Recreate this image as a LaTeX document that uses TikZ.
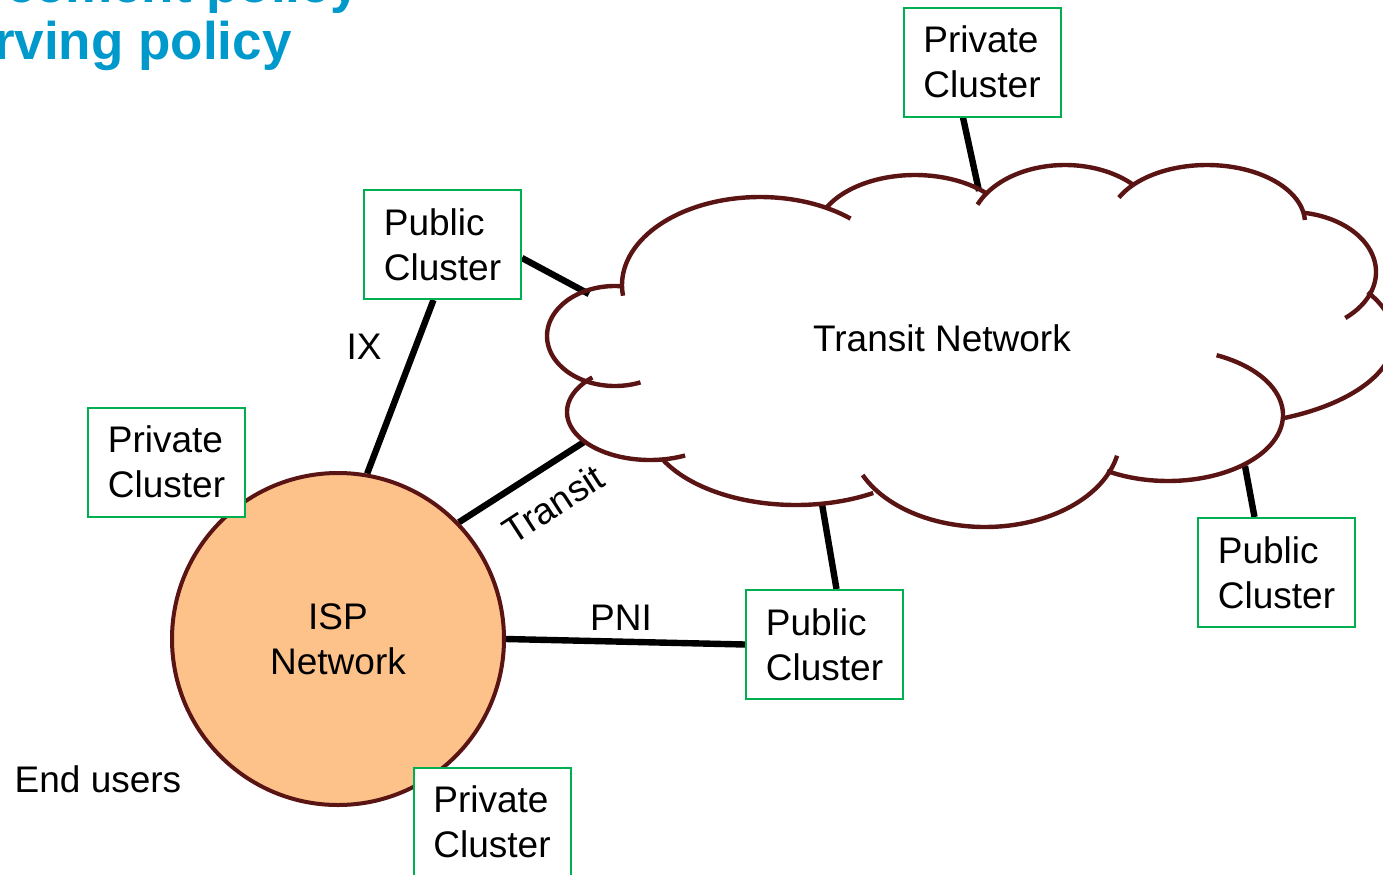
\documentclass[tikz,border=0pt]{standalone}
\usepackage{fontspec}
\setmainfont{Liberation Sans}
\usetikzlibrary{calc}
\pgfdeclarelayer{background}
\pgfsetlayers{background,main}
\definecolor{cloudred}{RGB}{90,20,20}
\definecolor{boxgreen}{RGB}{0,176,80}
\definecolor{ispfill}{RGB}{252,194,138}
\definecolor{titleblue}{RGB}{0,153,204}
\newcommand\cloudlobe[6]{\draw[cloudline] plot[domain=#5:#6, samples=60] ({#1+#3*cos(\x)},{#2+#4*sin(\x)});}
\begin{document}
\begin{tikzpicture}[x=0.5pt,y=-0.5pt,
  txt/.style={font=\fontsize{18.5pt}{22.5pt}\selectfont},
  box/.style={txt, draw=boxgreen, line width=1pt, fill=white, minimum width=78.5pt, minimum height=54.5pt, inner sep=0pt, align=left},
  isps/.style={txt, circle, draw=cloudred, line width=2pt, fill=ispfill, minimum size=166pt, inner sep=0pt, align=center},
  link/.style={line width=3.2pt, draw=black},
  cloudline/.style={draw=cloudred, line width=2.2pt},
  lbl/.style={txt, inner sep=0pt},
  ttl/.style={font=\fontsize{26.5pt}{30pt}\selectfont\bfseries, text=titleblue, inner sep=0pt, anchor=base east}]
\useasboundingbox (0,0) rectangle (1383,874);
\clip (0,0) rectangle (1383,874);
\begin{pgfonlayer}{background}
\fill[white] (0,0) rectangle (1383,874);
\end{pgfonlayer}

% title
\node[ttl] (t1) at (360,2) {cement policy};
\node[ttl] (t2) at (292,59) {rving policy};

% cloud attachment points
\coordinate (cPT) at (979,191);
\coordinate (cPL) at (589,294);
\coordinate (cTR) at (584,442);
\coordinate (cPM) at (822,504);
\coordinate (cPR) at (1245,466);

% nodes
\node[isps] (isp) at (338,639) {ISP\\Network};
\node[box] (privTop) at (982,62) {Private\\Cluster};
\node[box] (pubTL) at (442.5,244.5) {Public\\Cluster};
\node[box] (privL) at (166.5,462) {Private\\Cluster};
\node[box] (pubMid) at (824.5,644.5) {Public\\Cluster};
\node[box] (pubR) at (1276.5,572.5) {Public\\Cluster};
\node[box] (privBot) at (492,822) {Private\\Cluster};

% connectors (behind the nodes)
\begin{pgfonlayer}{background}
\draw[link] ($(privTop.south)+(-19,0)$) -- (cPT);
\draw[link] ($(pubTL.east)+(0,13.5)$) -- (cPL);
\draw[link] ($(pubTL.south)+(-9,0)$) -- (isp.80);
\draw[link] (isp.44) -- (cTR);
\draw[link] (isp.east) -- (pubMid.west);
\draw[link] ($(pubMid.north)+(12,0)$) -- (cPM);
\draw[link] ($(pubR.north)+(-22,0)$) -- (cPR);
\end{pgfonlayer}

% cloud
\cloudlobe{615}{336}{68}{50}{68}{275}
\cloudlobe{650}{412}{83}{48}{65}{226}
\cloudlobe{796}{421}{150}{84}{59}{153}
\cloudlobe{985}{437}{135}{90}{12}{155}
\cloudlobe{1168}{415}{115}{66}{-65}{122}
\cloudlobe{1210}{337.5}{184}{88}{-31}{66}
\cloudlobe{1290}{272}{86}{60}{-81}{50}
\cloudlobe{1207}{223}{98}{58}{-154}{-3}
\cloudlobe{1065}{230}{95}{65}{-157}{-45}
\cloudlobe{915}{236}{100}{61}{-152}{-44}
\cloudlobe{760}{285}{138}{88}{173}{311}
\node[lbl] (lTN) at (942,338) {Transit Network};

% labels
\node[lbl] (lIX) at (364,347) {IX};
\node[lbl] (lPNI) at (621,618) {PNI};
\node[lbl, rotate=33] (lTR) at (553,504) {Transit};
\node[lbl] (lEU) at (98,779) {End users};
\end{tikzpicture}
\end{document}
